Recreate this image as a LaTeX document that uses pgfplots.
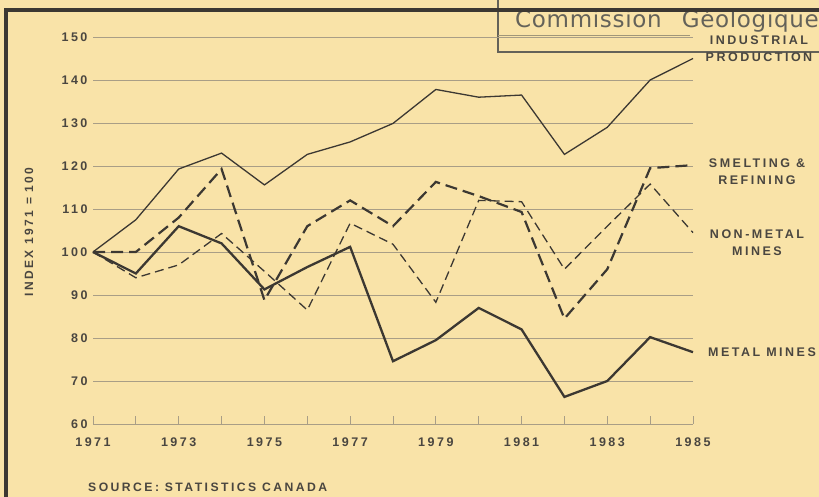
\documentclass[border=0pt]{standalone}
\usepackage{fontspec}
\setmainfont{Liberation Sans}[LetterSpace=20]
\newfontfamily\stampfont{DejaVu Sans}[LetterSpace=3]
\usepackage{pgfplots}
\pgfplotsset{compat=1.18}
\definecolor{bg}{HTML}{F9E3A8}
\definecolor{ink}{HTML}{3C3832}
\definecolor{txt}{HTML}{4A4640}
\definecolor{gridc}{HTML}{A99E86}
\definecolor{stamp}{HTML}{646259}
\newcommand\lf{\fontsize{12.5}{17}\selectfont\bfseries\color{txt}}
\begin{document}
\begin{tikzpicture}[x=1pt,y=1pt]
\useasboundingbox (0,0) rectangle (819,497);
\clip (0,0) rectangle (819,497);
\fill[bg] (0,0) rectangle (819,497);
% stamp
\draw[stamp, line width=1.8pt] (498,510) -- (498,445) -- (830,445);
\draw[stamp!60!bg, line width=0.6pt] (498,462) -- (690,462);
\node[anchor=base west, inner sep=0, text=stamp, font=\stampfont\fontsize{23}{25}\selectfont] at (515,469) {Commission\hspace{12pt} Géologique};
\draw[ink, line width=4pt] (5.5,-5) -- (5.5,487) -- (830,487);
\begin{axis}[
  at={(93pt,73pt)}, anchor=south west,
  scale only axis, width=600pt, height=387pt,
  xmin=1971, xmax=1985, ymin=60, ymax=150,
  axis x line*=bottom, axis y line*=left,
  y axis line style={draw=none},
  x axis line style={gridc, line width=0.8pt},
  xtick={1971,...,1985},
  xticklabels={1971,,1973,,1975,,1977,,1979,,1981,,1983,,1985},
  ytick={60,70,...,150},
  tick align=inside,
  major tick length=8pt,
  xtick style={gridc, line width=0.8pt},
  ytick style={draw=none},
  ymajorgrids,
  grid style={gridc, line width=0.6pt},
  tick label style={font=\lf},
  /pgf/number format/assume math mode=true,
  /pgf/number format/1000 sep={},
  xticklabel style={yshift=-10pt},
  yticklabel style={xshift=-2pt},
  clip=false,
]
\addplot[ink, line width=1.3pt] coordinates {(1971,100)(1972,107.5)(1973,119.3)(1974,123)(1975,115.6)(1976,122.7)(1977,125.6)(1978,129.9)(1979,137.8)(1980,136)(1981,136.5)(1982,122.7)(1983,129)(1984,140)(1985,145)};
\addplot[ink, line width=2.2pt, dash pattern=on 12pt off 6pt] coordinates {(1971,100)(1972,100)(1973,108)(1974,119.3)(1975,88.8)(1976,106)(1977,112)(1978,106)(1979,116.3)(1980,113)(1981,109.3)(1982,84.5)(1983,96)(1984,119.5)(1985,120.2)};
\addplot[ink, line width=1.3pt, dash pattern=on 9pt off 5pt] coordinates {(1971,100)(1972,94)(1973,97)(1974,104.3)(1975,95.5)(1976,86.5)(1977,106.7)(1978,101.8)(1979,88.3)(1980,112)(1981,111.7)(1982,96)(1983,106)(1984,115.8)(1985,104.5)};
\addplot[ink, line width=2.3pt] coordinates {(1971,100)(1972,95)(1973,106)(1974,102)(1975,91.3)(1976,96.5)(1977,101.2)(1978,74.6)(1979,79.5)(1980,87)(1981,82)(1982,66.3)(1983,70)(1984,80.2)(1985,76.7)};
\end{axis}
\node[align=center, font=\lf] at (759,448) {INDUSTRIAL\\PRODUCTION};
\node[align=center, font=\lf] at (757,325.5) {SMELTING \&\\REFINING};
\node[align=center, font=\lf] at (757,254) {NON-METAL\\MINES};
\node[font=\lf] at (762,145) {METAL MINES};
\node[anchor=west, font=\lf\fontsize{12.2}{14}\selectfont, inner sep=0] at (88,10) {SOURCE: STATISTICS CANADA};
\node[rotate=90, font=\lf\fontsize{12}{14}\selectfont] at (29,265) {INDEX 1971 = 100};
\end{tikzpicture}
\end{document}
